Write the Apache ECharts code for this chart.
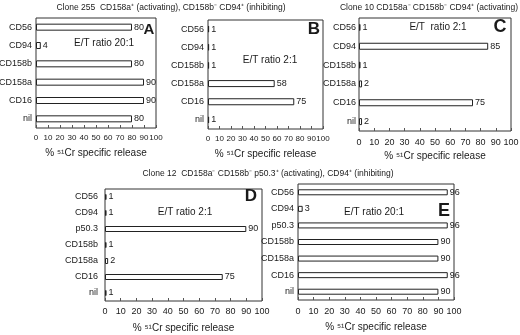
<!DOCTYPE html>
<html>
<head>
  <meta charset="utf-8">
  <title>% 51Cr specific release</title>
  <script src="https://cdn.jsdelivr.net/npm/echarts@6/dist/echarts.min.js"></script>
  <style>
    html, body { margin: 0; padding: 0; background: #fff; }
    #main { width: 520px; height: 335px; }
  </style>
</head>
<body>
<div id="main"></div>
<script>
// categories (top to bottom)
var rowsTop = ['CD56', 'CD94', 'CD158b', 'CD158a', 'CD16', 'nil'];
var rowsBottom = ['CD56', 'CD94', 'p50.3', 'CD158b', 'CD158a', 'CD16', 'nil'];

// % 51Cr specific release
var valsA = [80, 4, 80, 90, 90, 80];
var valsB = [1, 1, 1, 58, 75, 1];
var valsC = [1, 85, 1, 2, 75, 2];
var valsD = [1, 1, 90, 1, 2, 75, 1];
var valsE = [96, 3, 96, 90, 90, 96, 90];

var xMin = 0, xMax = 100, xStep = 10;
var axisTitle = '% \u2075\u00b9Cr specific release';

var font = 'Liberation Sans, Arial, sans-serif';
var ink = '#1a1a1a';

var myChart = echarts.init(document.getElementById('main'));

var grid = [], xAxis = [], yAxis = [], series = [], graphic = [];

// one little bar panel
function panel(cats, vals, box, barW, gap, lblMargin, tickSize, catMargin) {
  var i = grid.length;
  grid.push({
    left: box[0], top: box[1], width: box[2], height: box[3],
    show: true, borderColor: '#333', borderWidth: 1,
    backgroundColor: 'transparent',
    containLabel: false, outerBoundsMode: 'none'
  });
  xAxis.push({
    type: 'value', gridIndex: i, min: xMin, max: xMax, interval: xStep,
    splitLine: { show: false },
    axisLine: { show: false },
    axisTick: { show: true, inside: true, length: 3, lineStyle: { color: '#555' } },
    axisLabel: { fontSize: tickSize, color: ink, fontFamily: font, margin: lblMargin,
                 showMinLabel: true, showMaxLabel: true, hideOverlap: false },
    name: axisTitle, nameLocation: 'middle', nameGap: gap,
    nameTextStyle: { fontSize: 10, color: ink, fontFamily: font }
  });
  yAxis.push({
    type: 'category', gridIndex: i, data: cats, inverse: true,
    axisLine: { show: false },
    axisTick: { show: false },
    axisLabel: { fontSize: 9, color: ink, fontFamily: font, margin: catMargin }
  });
  series.push({
    type: 'bar', xAxisIndex: i, yAxisIndex: i, data: vals,
    barWidth: barW, silent: true,
    itemStyle: { color: '#fff', borderColor: '#222', borderWidth: 1 },
    label: { show: true, position: 'right', distance: 2, fontSize: 9,
             color: ink, fontFamily: font }
  });
}

function note(txt, x, y, size, bold) {
  graphic.push({
    type: 'text', x: x, y: y, silent: true,
    style: { text: txt, fill: ink, font: (bold ? 'bold ' : '') + size + 'px ' + font,
             textAlign: 'center', textVerticalAlign: 'middle' }
  });
}

panel(rowsTop, valsA, [36, 18, 120, 110], 7, 20, 6, 8, 4);
panel(rowsTop, valsB, [208, 20, 115, 109], 7, 20, 6, 8, 4);
panel(rowsTop, valsC, [359, 18, 152, 113], 7, 20, 7, 9, 3);
panel(rowsBottom, valsD, [105, 189, 157, 112], 6, 22, 6, 9, 7);
panel(rowsBottom, valsE, [298, 184, 156, 116], 6, 22, 7, 9, 4);

note('Clone 255  CD158a\u207a (activating), CD158b\u207b CD94\u207a (inhibiting)', 171, 8, 8.5);
note('Clone 10 CD158a\u207b CD158b\u207b CD94\u207a (activating)', 429, 8, 8.5);
note('Clone 12  CD158a\u207b CD158b\u207b p50.3\u207a (activating), CD94\u207a (inhibiting)', 268, 174, 8.5);

note('E/T ratio 20:1', 104, 43, 10);
note('E/T ratio 2:1', 270, 60, 10);
note('E/T  ratio 2:1', 438, 27, 10);
note('E/T ratio 2:1', 185, 212, 10);
note('E/T ratio 20:1', 374, 212, 10);

note('A', 149, 30, 15, true);
note('B', 314, 29, 17, true);
note('C', 500, 27, 18, true);
note('D', 251, 196, 17, true);
note('E', 444, 211, 18, true);

var option = {
  animation: false,
  grid: grid,
  xAxis: xAxis,
  yAxis: yAxis,
  series: series,
  graphic: graphic
};
myChart.setOption(option);
</script>
</body>
</html>
